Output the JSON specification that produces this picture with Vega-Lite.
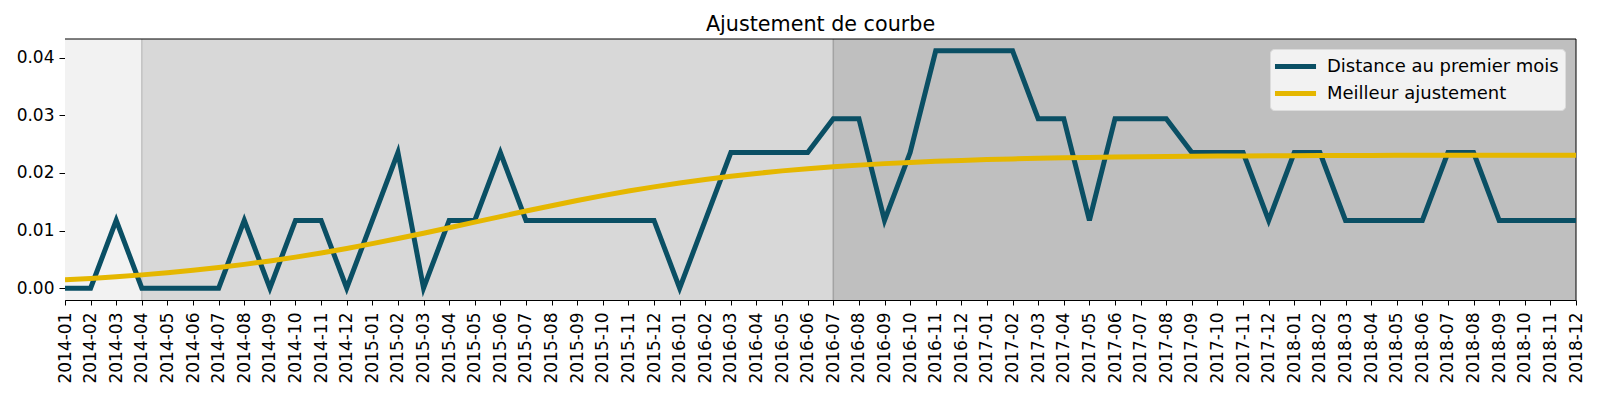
{
  "$schema": "https://vega.github.io/schema/vega-lite/v6.json",
  "width": 1511,
  "height": 261,
  "autosize": {"type": "none"},
  "padding": {"left": 65, "top": 39, "right": 24, "bottom": 100},
  "background": "white",
  "title": {"text": "Ajustement de courbe", "fontSize": 20.7, "fontWeight": "normal", "font": "DejaVu Sans", "color": "black", "anchor": "middle", "offset": 3},
  "config": {
    "view": {"stroke": null},
    "font": "DejaVu Sans",
    "axis": {"labelFont": "DejaVu Sans", "labelColor": "black", "domainColor": "black", "tickColor": "black", "tickWidth": 1, "domainWidth": 1, "grid": false, "zindex": 1}
  },
  "datasets": {
    "series": [
      {"mois": "2014-01", "Distance au premier mois": 0, "Meilleur ajustement": 0.00145},
      {"mois": "2014-02", "Distance au premier mois": 0, "Meilleur ajustement": 0.00169},
      {"mois": "2014-03", "Distance au premier mois": 0.01176, "Meilleur ajustement": 0.00198},
      {"mois": "2014-04", "Distance au premier mois": 0, "Meilleur ajustement": 0.0023},
      {"mois": "2014-05", "Distance au premier mois": 0, "Meilleur ajustement": 0.00268},
      {"mois": "2014-06", "Distance au premier mois": 0, "Meilleur ajustement": 0.0031},
      {"mois": "2014-07", "Distance au premier mois": 0, "Meilleur ajustement": 0.00358},
      {"mois": "2014-08", "Distance au premier mois": 0.01176, "Meilleur ajustement": 0.00412},
      {"mois": "2014-09", "Distance au premier mois": 0, "Meilleur ajustement": 0.00472},
      {"mois": "2014-10", "Distance au premier mois": 0.01176, "Meilleur ajustement": 0.00538},
      {"mois": "2014-11", "Distance au premier mois": 0.01176, "Meilleur ajustement": 0.0061},
      {"mois": "2014-12", "Distance au premier mois": 0, "Meilleur ajustement": 0.00689},
      {"mois": "2015-01", "Distance au premier mois": 0.01176, "Meilleur ajustement": 0.00772},
      {"mois": "2015-02", "Distance au premier mois": 0.02353, "Meilleur ajustement": 0.00861},
      {"mois": "2015-03", "Distance au premier mois": 0, "Meilleur ajustement": 0.00953},
      {"mois": "2015-04", "Distance au premier mois": 0.01176, "Meilleur ajustement": 0.01049},
      {"mois": "2015-05", "Distance au premier mois": 0.01176, "Meilleur ajustement": 0.01145},
      {"mois": "2015-06", "Distance au premier mois": 0.02353, "Meilleur ajustement": 0.01242},
      {"mois": "2015-07", "Distance au premier mois": 0.01176, "Meilleur ajustement": 0.01338},
      {"mois": "2015-08", "Distance au premier mois": 0.01176, "Meilleur ajustement": 0.01431},
      {"mois": "2015-09", "Distance au premier mois": 0.01176, "Meilleur ajustement": 0.0152},
      {"mois": "2015-10", "Distance au premier mois": 0.01176, "Meilleur ajustement": 0.01605},
      {"mois": "2015-11", "Distance au premier mois": 0.01176, "Meilleur ajustement": 0.01685},
      {"mois": "2015-12", "Distance au premier mois": 0.01176, "Meilleur ajustement": 0.01758},
      {"mois": "2016-01", "Distance au premier mois": 0, "Meilleur ajustement": 0.01826},
      {"mois": "2016-02", "Distance au premier mois": 0.01176, "Meilleur ajustement": 0.01887},
      {"mois": "2016-03", "Distance au premier mois": 0.02353, "Meilleur ajustement": 0.01942},
      {"mois": "2016-04", "Distance au premier mois": 0.02353, "Meilleur ajustement": 0.01991},
      {"mois": "2016-05", "Distance au premier mois": 0.02353, "Meilleur ajustement": 0.02035},
      {"mois": "2016-06", "Distance au premier mois": 0.02353, "Meilleur ajustement": 0.02073},
      {"mois": "2016-07", "Distance au premier mois": 0.02941, "Meilleur ajustement": 0.02106},
      {"mois": "2016-08", "Distance au premier mois": 0.02941, "Meilleur ajustement": 0.02135},
      {"mois": "2016-09", "Distance au premier mois": 0.01176, "Meilleur ajustement": 0.02161},
      {"mois": "2016-10", "Distance au premier mois": 0.02353, "Meilleur ajustement": 0.02182},
      {"mois": "2016-11", "Distance au premier mois": 0.04118, "Meilleur ajustement": 0.02201},
      {"mois": "2016-12", "Distance au premier mois": 0.04118, "Meilleur ajustement": 0.02217},
      {"mois": "2017-01", "Distance au premier mois": 0.04118, "Meilleur ajustement": 0.02231},
      {"mois": "2017-02", "Distance au premier mois": 0.04118, "Meilleur ajustement": 0.02243},
      {"mois": "2017-03", "Distance au premier mois": 0.02941, "Meilleur ajustement": 0.02253},
      {"mois": "2017-04", "Distance au premier mois": 0.02941, "Meilleur ajustement": 0.02262},
      {"mois": "2017-05", "Distance au premier mois": 0.01176, "Meilleur ajustement": 0.02269},
      {"mois": "2017-06", "Distance au premier mois": 0.02941, "Meilleur ajustement": 0.02275},
      {"mois": "2017-07", "Distance au premier mois": 0.02941, "Meilleur ajustement": 0.02281},
      {"mois": "2017-08", "Distance au premier mois": 0.02941, "Meilleur ajustement": 0.02285},
      {"mois": "2017-09", "Distance au premier mois": 0.02353, "Meilleur ajustement": 0.02289},
      {"mois": "2017-10", "Distance au premier mois": 0.02353, "Meilleur ajustement": 0.02292},
      {"mois": "2017-11", "Distance au premier mois": 0.02353, "Meilleur ajustement": 0.02295},
      {"mois": "2017-12", "Distance au premier mois": 0.01176, "Meilleur ajustement": 0.02297},
      {"mois": "2018-01", "Distance au premier mois": 0.02353, "Meilleur ajustement": 0.02299},
      {"mois": "2018-02", "Distance au premier mois": 0.02353, "Meilleur ajustement": 0.02301},
      {"mois": "2018-03", "Distance au premier mois": 0.01176, "Meilleur ajustement": 0.02302},
      {"mois": "2018-04", "Distance au premier mois": 0.01176, "Meilleur ajustement": 0.02303},
      {"mois": "2018-05", "Distance au premier mois": 0.01176, "Meilleur ajustement": 0.02305},
      {"mois": "2018-06", "Distance au premier mois": 0.01176, "Meilleur ajustement": 0.02305},
      {"mois": "2018-07", "Distance au premier mois": 0.02353, "Meilleur ajustement": 0.02306},
      {"mois": "2018-08", "Distance au premier mois": 0.02353, "Meilleur ajustement": 0.02307},
      {"mois": "2018-09", "Distance au premier mois": 0.01176, "Meilleur ajustement": 0.02307},
      {"mois": "2018-10", "Distance au premier mois": 0.01176, "Meilleur ajustement": 0.02308},
      {"mois": "2018-11", "Distance au premier mois": 0.01176, "Meilleur ajustement": 0.02308},
      {"mois": "2018-12", "Distance au premier mois": 0.01176, "Meilleur ajustement": 0.02308}
    ],
    "zones": [
      {"zone": "avant", "debut": "2014-01", "fin": "2014-04"},
      {"zone": "pendant", "debut": "2014-04", "fin": "2016-07"},
      {"zone": "après", "debut": "2016-07", "fin": "2018-12"}
    ],
    "bornes": [
      {"borne": "début", "mois": "2014-04"},
      {"borne": "fin", "mois": "2016-07"}
    ],
    "cadre": [
      {"bord": "haut", "de": "2014-01", "a": "2018-12", "bas": 0.04324, "haut": 0.04324},
      {"bord": "droit", "de": "2018-12", "a": "2018-12", "bas": -0.00206, "haut": 0.04324}
    ]
  },
  "layer": [
    {
      "data": {"name": "zones"},
      "mark": {"type": "rect", "strokeWidth": 0},
      "encoding": {
        "x": {"field": "debut", "type": "ordinal", "scale": {"type": "point", "padding": 0},
          "axis": {"title": null, "labelAngle": 270, "labelFontSize": 17, "tickSize": 5, "labelPadding": 7, "labelOverlap": false, "labelBound": false}},
        "x2": {"field": "fin"},
        "fill": {"field": "zone", "type": "nominal", "scale": {"domain": ["avant", "pendant", "après"], "range": ["#f2f2f2", "#d8d8d8", "#bfbfbf"]}, "legend": null}
      }
    },
    {
      "data": {"name": "bornes"},
      "mark": {"type": "rule", "strokeWidth": 1.5},
      "encoding": {
        "x": {"field": "mois", "type": "ordinal",
          "axis": {"title": null, "labelAngle": 270, "labelFontSize": 17, "tickSize": 5, "labelPadding": 7, "labelOverlap": false, "labelBound": false}},
        "stroke": {"field": "borne", "type": "nominal", "scale": {"domain": ["début", "fin"], "range": ["#c2c2c2", "#a3a3a3"]}, "legend": null}
      }
    },
    {
      "data": {"name": "cadre"},
      "mark": {"type": "rule", "color": "black", "strokeWidth": 1},
      "encoding": {
        "x": {"field": "de", "type": "ordinal",
          "axis": {"title": null, "labelAngle": 270, "labelFontSize": 17, "tickSize": 5, "labelPadding": 7, "labelOverlap": false, "labelBound": false}},
        "x2": {"field": "a"},
        "y": {"field": "bas", "type": "quantitative",
          "axis": {"title": null, "values": [0, 0.01, 0.02, 0.03, 0.04], "format": ".2f", "labelFontSize": 17, "tickSize": 6, "labelPadding": 5}},
        "y2": {"field": "haut"}
      }
    },
    {
      "data": {"name": "series"},
      "transform": [{"fold": ["Distance au premier mois", "Meilleur ajustement"], "as": ["serie", "valeur"]}],
      "mark": {"type": "line", "strokeWidth": 5, "strokeJoin": "miter", "strokeCap": "butt", "clip": true},
      "encoding": {
        "x": {
          "field": "mois", "type": "ordinal",
          "axis": {"title": null, "labelAngle": 270, "labelFontSize": 17, "tickSize": 5, "labelPadding": 7, "labelOverlap": false, "labelBound": false}
        },
        "y": {
          "field": "valeur", "type": "quantitative",
          "scale": {"domain": [-0.00206, 0.04324], "nice": false, "zero": false},
          "axis": {"title": null, "values": [0, 0.01, 0.02, 0.03, 0.04], "format": ".2f", "labelFontSize": 17, "tickSize": 6, "labelPadding": 5}
        },
        "color": {
          "field": "serie", "type": "nominal",
          "scale": {"domain": ["Distance au premier mois", "Meilleur ajustement"], "range": ["#0a4f64", "#e5b700"]},
          "legend": {
            "title": null, "orient": "none", "legendX": 1205, "legendY": 10,
            "symbolType": "M-1.39,0H3.17", "symbolSize": 324, "symbolStrokeWidth": 5,
            "labelOffset": 28, "rowPadding": 5, "padding": 6,
            "fillColor": "#f2f2f2", "strokeColor": "#dcdcdc", "cornerRadius": 4,
            "labelFontSize": 18, "labelFont": "DejaVu Sans", "labelColor": "black", "labelLimit": 400
          }
        }
      }
    }
  ]
}
